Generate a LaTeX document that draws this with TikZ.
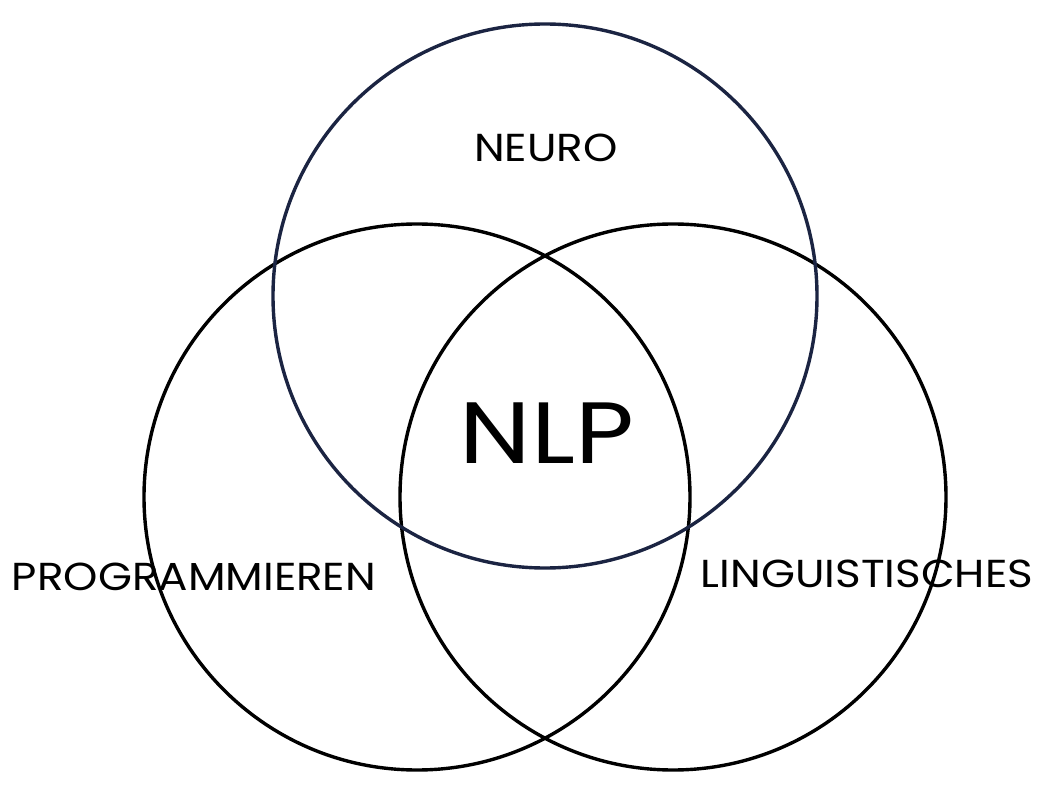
\documentclass[tikz,border=0pt]{standalone}
\usepackage{fontspec}
\setmainfont[FakeStretch=1.12]{Poppins}
\newfontfamily\bigfont[FakeStretch=1.17]{Poppins}
\definecolor{navy}{HTML}{1B2442}
\begin{document}
\begin{tikzpicture}[x=1pt,y=-1pt,
  ring/.style={line width=3.4pt,draw=black},
  lbl/.style={inner sep=0pt,anchor=base,font=\fontsize{39}{42}\selectfont},
  big/.style={inner sep=0pt,anchor=base,font=\bigfont\fontsize{87}{92}\selectfont}]
\useasboundingbox (0,0) rectangle (1055,810);
\draw[ring] (417,497) circle[radius=273];
\draw[ring] (673,497) circle[radius=273];
\draw[ring,draw=navy] (545,296) circle[radius=272];
\node[lbl] (neuro) at (546,162) {NEURO};
\node[lbl] (prog) at (194,590) {PROGRAMMIEREN};
\node[lbl] (ling) at (867,587) {LINGUISTISCHES};
\node[big] (nlp) at (547,463) {NLP};
\end{tikzpicture}
\end{document}
